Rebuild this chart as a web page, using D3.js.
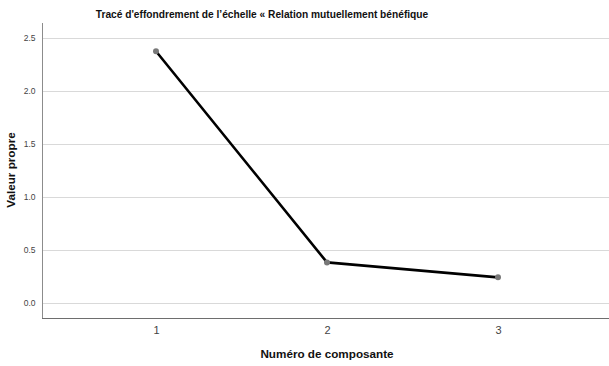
<!DOCTYPE html>
<html>
<head>
<meta charset="utf-8">
<script src="https://cdn.jsdelivr.net/npm/d3@7"></script>
<style>
  html, body { margin: 0; padding: 0; background: #fff; }
  svg { display: block; font-family: "Liberation Sans", Arial, sans-serif; }
</style>
</head>
<body>
<svg id="chart" width="609" height="366"></svg>
<script>
// Scree plot data: eigenvalue per component
const components = [1, 2, 3];
const eigenvalues = [2.375, 0.383, 0.242];
const yTicks = [0.0, 0.5, 1.0, 1.5, 2.0, 2.5];

const W = 609, H = 366;
const margin = { left: 42, right: 2, top: 23, bottom: 48 };

const svg = d3.select("#chart");

const x = d3.scaleLinear()
  .domain([1 - 114 / 171, 3 + 109 / 171])
  .range([margin.left, W - margin.right]);

const y = d3.scaleLinear()
  .domain([-0.1415, 2.642])
  .range([H - margin.bottom, margin.top]);

// horizontal gridlines
svg.append("g")
  .selectAll("line")
  .data(yTicks)
  .join("line")
  .attr("x1", margin.left)
  .attr("x2", W)
  .attr("y1", d => Math.round(y(d)) + 0.5)
  .attr("y2", d => Math.round(y(d)) + 0.5)
  .attr("stroke", "#d9d9d9")
  .attr("stroke-width", 1);

// y axis
const yAxis = svg.append("g")
  .attr("transform", `translate(${margin.left + 0.5},0)`)
  .call(d3.axisLeft(y).tickValues(yTicks).tickFormat(d3.format(".1f")).tickSize(0).tickPadding(7));
yAxis.select(".domain").attr("stroke", "#8c8c8c").attr("d", `M0,${margin.top}V${H - margin.bottom}`);
yAxis.selectAll("text").attr("font-size", 8.5).attr("fill", "#444")
  .attr("font-family", "'Liberation Sans', Arial, sans-serif");

// x axis
const xAxis = svg.append("g")
  .attr("transform", `translate(0,${H - margin.bottom + 0.5})`)
  .call(d3.axisBottom(x).tickValues(components).tickFormat(d3.format("d")).tickSize(0).tickPadding(8));
xAxis.select(".domain").attr("stroke", "#6e6e6e").attr("d", `M${margin.left},0H${W}`);
xAxis.selectAll("text").attr("font-size", 11).attr("fill", "#444")
  .attr("font-family", "'Liberation Sans', Arial, sans-serif");

// eigenvalue line
const line = d3.line()
  .x((d, i) => x(components[i]))
  .y(d => y(d));

svg.append("path")
  .datum(eigenvalues)
  .attr("d", line)
  .attr("fill", "none")
  .attr("stroke", "#000")
  .attr("stroke-width", 2.6)
  .attr("stroke-linejoin", "round");

// point markers
svg.append("g")
  .selectAll("circle")
  .data(eigenvalues)
  .join("circle")
  .attr("cx", (d, i) => x(components[i]))
  .attr("cy", d => y(d))
  .attr("r", 3)
  .attr("fill", "#787878");

// titles
svg.append("text")
  .attr("x", 262)
  .attr("y", 18)
  .attr("text-anchor", "middle")
  .attr("font-size", 10.2)
  .attr("font-weight", "bold")
  .attr("fill", "#111")
  .text("Tracé d'effondrement de l’échelle « Relation mutuellement bénéfique");

svg.append("text")
  .attr("x", 327)
  .attr("y", 358)
  .attr("text-anchor", "middle")
  .attr("font-size", 11.7)
  .attr("font-weight", "bold")
  .attr("fill", "#111")
  .text("Numéro de composante");

svg.append("text")
  .attr("transform", "translate(15,170) rotate(-90)")
  .attr("text-anchor", "middle")
  .attr("font-size", 11.7)
  .attr("font-weight", "bold")
  .attr("fill", "#111")
  .text("Valeur propre");
</script>
</body>
</html>
